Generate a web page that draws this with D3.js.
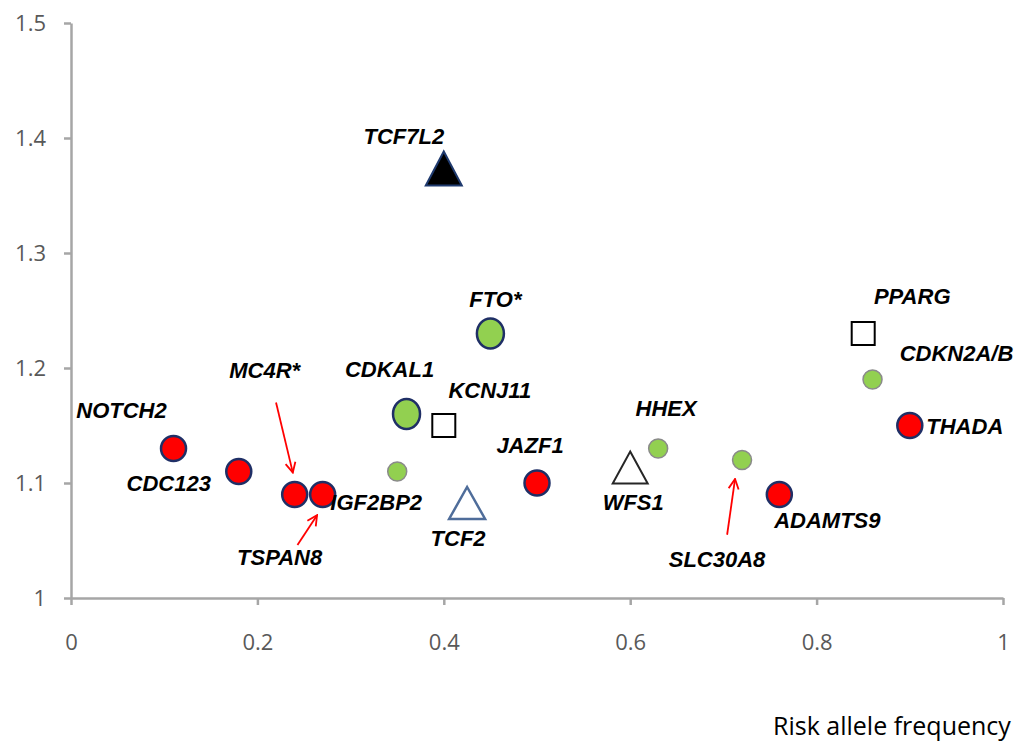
<!DOCTYPE html>
<html>
<head>
<meta charset="utf-8">
<script src="https://cdn.jsdelivr.net/npm/d3@7/dist/d3.min.js"></script>
<style>
  html, body { margin: 0; padding: 0; background: #fff; }
  svg { display: block; }
</style>
</head>
<body>
<div id="chart"></div>
<script>
// gene names, risk allele frequency, odds ratio, marker group
var genes = ['NOTCH2', 'CDC123', 'MC4R*', 'TSPAN8', 'IGF2BP2', 'CDKAL1', 'KCNJ11', 'FTO*', 'TCF7L2',
    'TCF2', 'JAZF1', 'WFS1', 'HHEX', 'SLC30A8', 'ADAMTS9', 'PPARG', 'CDKN2A/B', 'THADA'];
var riskFreq = [0.11, 0.18, 0.24, 0.27, 0.35, 0.36, 0.40, 0.45, 0.40,
    0.425, 0.50, 0.60, 0.63, 0.72, 0.76, 0.85, 0.86, 0.90];
var oddsRatio = [1.13, 1.11, 1.09, 1.09, 1.11, 1.16, 1.15, 1.23, 1.37,
    1.08, 1.10, 1.11, 1.13, 1.12, 1.09, 1.23, 1.19, 1.15];
var markerGroup = ['red', 'red', 'red', 'red', 'greenSmall', 'greenLarge', 'square', 'greenLarge', 'triFilled',
    'triBlue', 'red', 'triOpen', 'greenSmall', 'greenSmall', 'red', 'square', 'greenSmall', 'red'];

var xTicks = [0, 0.2, 0.4, 0.6, 0.8, 1];
var yTicks = [1, 1.1, 1.2, 1.3, 1.4, 1.5];
var xTitle = 'Risk allele frequency';

// arrows pointing at crowded points: [fromFreq, fromOR, toFreq, toOR]
var arrows = [
    [0.220, 1.170, 0.238, 1.109],
    [0.243, 1.046, 0.264, 1.072],
    [0.704, 1.055, 0.7125, 1.1035]
];

// label placement, pixel shift from the marker centre (layout only)
var labelShift = [
    [-52, -31], [-70, 19], [-30, -117], [-43, 70], [-21, 38], [-17, -37], [46, -28], [5, -27], [-40, -29],
    [-9, 40], [-7, -30], [3, 38], [8, -33], [-25, 107], [48, 33], [49, -30], [84, -19], [55, 8]
];

var width = 1019, height = 746;

var svg = d3.select('#chart').append('svg')
    .attr('width', width)
    .attr('height', height)
    .attr('viewBox', '0 0 ' + width + ' ' + height);

var x = d3.scaleLinear().domain([0, 1]).range([71, 1003]);
var y = d3.scaleLinear().domain([1, 1.5]).range([598, 23]);

var axisColor = '#a6a6a6';
var tickTextColor = '#595959';

// axes
var yAxis = svg.append('g')
    .attr('transform', 'translate(' + x(0) + ',0)')
    .call(d3.axisLeft(y)
        .tickValues(yTicks)
        .tickSize(7)
        .tickSizeOuter(0)
        .tickPadding(18)
        .tickFormat(function(d) { return d === 1 ? '1' : d.toFixed(1); }));

var xAxis = svg.append('g')
    .attr('transform', 'translate(0,' + y(1) + ')')
    .call(d3.axisBottom(x)
        .tickValues(xTicks)
        .tickSize(7)
        .tickSizeOuter(0)
        .tickPadding(29)
        .tickFormat(function(d) { return d === 0 || d === 1 ? String(d) : d.toFixed(1); }));

[xAxis, yAxis].forEach(function(g) {
    g.select('.domain').attr('stroke', axisColor).attr('stroke-width', 2.5);
    g.selectAll('.tick line').attr('stroke', axisColor).attr('stroke-width', 2.5);
    g.selectAll('.tick text')
        .attr('fill', tickTextColor)
        .style('font-family', '"Open Sans", sans-serif')
        .style('font-size', '22px');
});

svg.append('text')
    .attr('x', 773)
    .attr('y', 735)
    .attr('fill', '#000')
    .style('font-family', '"Open Sans", sans-serif')
    .style('font-size', '25px')
    .text(xTitle);

// arrowhead marker
svg.append('defs').append('marker')
    .attr('id', 'arrowhead')
    .attr('viewBox', '0 0 12 12')
    .attr('refX', 11)
    .attr('refY', 6)
    .attr('markerWidth', 12)
    .attr('markerHeight', 12)
    .attr('markerUnits', 'userSpaceOnUse')
    .attr('orient', 'auto')
    .append('path')
    .attr('d', 'M 1,1 L 11,6 L 1,11')
    .attr('fill', 'none')
    .attr('stroke', '#ff0000')
    .attr('stroke-width', 1.8);

svg.append('g').selectAll('line')
    .data(arrows)
    .enter()
    .append('line')
    .attr('x1', function(d) { return x(d[0]); })
    .attr('y1', function(d) { return y(d[1]); })
    .attr('x2', function(d) { return x(d[2]); })
    .attr('y2', function(d) { return y(d[3]); })
    .attr('stroke', '#ff0000')
    .attr('stroke-width', 1.8)
    .attr('marker-end', 'url(#arrowhead)');

// markers
var points = genes.map(function(g, i) {
    return { gene: g, f: riskFreq[i], or: oddsRatio[i], group: markerGroup[i], shift: labelShift[i] };
});

function triPath(w, h) {
    return 'M 0,' + (-h / 2) + ' L ' + (w / 2) + ',' + (h / 2) + ' L ' + (-w / 2) + ',' + (h / 2) + ' Z';
}

var markerLayer = svg.append('g');

points.forEach(function(p) {
    var g = markerLayer.append('g')
        .attr('transform', 'translate(' + x(p.f) + ',' + y(p.or) + ')');

    if (p.group === 'red') {
        g.append('circle')
            .attr('r', 12.5)
            .attr('fill', '#ff0000')
            .attr('stroke', '#1f2f66')
            .attr('stroke-width', 2.5);
    } else if (p.group === 'greenLarge') {
        g.append('ellipse')
            .attr('rx', 13.5)
            .attr('ry', 15)
            .attr('fill', '#92d050')
            .attr('stroke', '#1f2f66')
            .attr('stroke-width', 2.5);
    } else if (p.group === 'greenSmall') {
        g.append('circle')
            .attr('r', 9.5)
            .attr('fill', '#92d050')
            .attr('stroke', '#8a8a8a')
            .attr('stroke-width', 1.5);
    } else if (p.group === 'square') {
        g.append('rect')
            .attr('x', -11.5)
            .attr('y', -11.5)
            .attr('width', 23)
            .attr('height', 23)
            .attr('fill', '#fff')
            .attr('stroke', '#000')
            .attr('stroke-width', 2);
    } else if (p.group === 'triFilled') {
        g.append('path')
            .attr('d', triPath(36, 34))
            .attr('transform', 'translate(0,-4)')
            .attr('fill', '#000')
            .attr('stroke', '#1f3a6e')
            .attr('stroke-width', 2);
    } else if (p.group === 'triBlue') {
        g.append('path')
            .attr('d', triPath(36, 32))
            .attr('transform', 'translate(0,-3)')
            .attr('fill', '#fff')
            .attr('stroke', '#4f6d9a')
            .attr('stroke-width', 2.5);
    } else if (p.group === 'triOpen') {
        g.append('path')
            .attr('d', triPath(35, 32))
            .attr('transform', 'translate(0,-4)')
            .attr('fill', '#fff')
            .attr('stroke', '#262626')
            .attr('stroke-width', 2);
    }
});

// gene labels
svg.append('g').selectAll('text')
    .data(points)
    .enter()
    .append('text')
    .attr('x', function(d) { return x(d.f) + d.shift[0]; })
    .attr('y', function(d) { return y(d.or) + d.shift[1]; })
    .attr('text-anchor', 'middle')
    .attr('fill', '#000')
    .style('font-family', '"Liberation Sans", Arial, sans-serif')
    .style('font-weight', 'bold')
    .style('font-style', 'italic')
    .style('font-size', '22px')
    .text(function(d) { return d.gene; });
</script>
</body>
</html>
